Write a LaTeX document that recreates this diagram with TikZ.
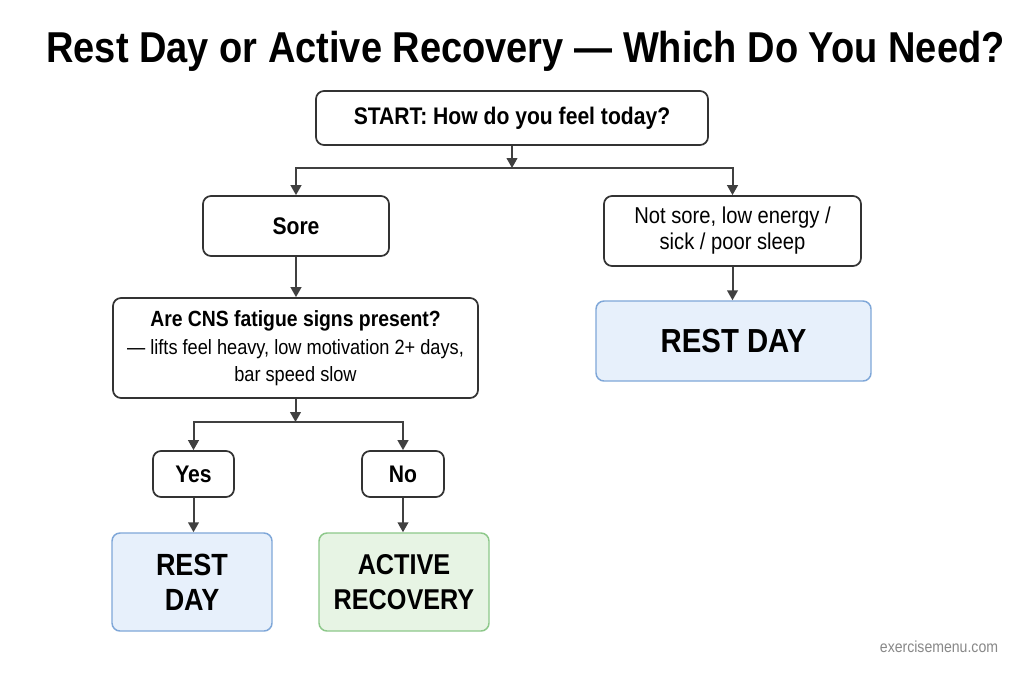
\documentclass[tikz,border=0pt]{standalone}
\usepackage{fontspec}
\setmainfont[FakeStretch=0.88]{Liberation Sans}
\usetikzlibrary{arrows.meta}
\definecolor{edge}{HTML}{333333}
\definecolor{arrowc}{HTML}{404040}
\definecolor{bluefill}{HTML}{E7F0FB}
\definecolor{blueedge}{HTML}{7FA7D8}
\definecolor{greenfill}{HTML}{E7F4E4}
\definecolor{greenedge}{HTML}{8DC88A}
\definecolor{wmark}{HTML}{888888}
\tikzset{
  box/.style={draw=edge, line width=1.3pt, rounded corners=6pt, fill=white, align=center, inner sep=0pt, text=black},
  bluebox/.style={box, draw=blueedge, fill=bluefill, line width=1.1pt},
  greenbox/.style={box, draw=greenedge, fill=greenfill, line width=1.1pt},
  arr/.style={draw=arrowc, line width=1.5pt, -{Triangle[width=8pt,length=7.5pt]}},
  mid/.style={font=\fontsize{18}{21}\selectfont\bfseries},
  big/.style={font=\fontsize{23}{26}\selectfont\bfseries},
}
\begin{document}
\begin{tikzpicture}[x=0.75pt, y=-0.75pt]
\useasboundingbox (0,0) rectangle (1024,683);
\fill[white] (0,0) rectangle (1024,683);

\node[anchor=base, font=\fontsize{32.4}{36}\selectfont\bfseries] (title) at (525.5,62) {Rest Day or Active Recovery — Which Do You Need?};

\node[box, mid, minimum width=294pt, minimum height=40.5pt] (start) at (512,118) {START: How do you feel today?};
\node[box, mid, minimum width=139.5pt, minimum height=45pt] (sore) at (296,226) {Sore};
\node[box, font=\fontsize{17.2}{19.5}\selectfont, minimum width=192.75pt, minimum height=52.5pt] (notsore) at (732.5,231) {Not sore, low energy /\\sick / poor sleep};
\node[box, font=\fontsize{15.5}{20}\selectfont, minimum width=273.75pt, minimum height=75pt] (cns) at (295.5,348)
  {{\fontsize{16.5}{20}\selectfont\bfseries Are CNS fatigue signs present?}\\[1pt]
   — lifts feel heavy, low motivation 2+ days,\\
   bar speed slow};
\node[box, mid, minimum width=60.75pt, minimum height=34.5pt] (yes) at (193.5,474) {Yes};
\node[box, mid, minimum width=61.5pt, minimum height=34.5pt] (no) at (403,474) {No};
\node[bluebox, big, minimum width=120pt, minimum height=73.5pt] (restA) at (192,582) {REST\\DAY};
\node[greenbox, big, font=\fontsize{21.5}{26}\selectfont\bfseries, minimum width=127.5pt, minimum height=73.5pt] (active) at (404,582) {ACTIVE\\RECOVERY};
\node[bluebox, font=\fontsize{25}{28}\selectfont\bfseries, minimum width=206.25pt, minimum height=60pt] (restB) at (733.5,341) {REST DAY};

\node[anchor=base, text=wmark, font=\fontsize{12}{14}\selectfont] (wm) at (939,652) {exercisemenu.com};

\coordinate (j1) at (512,168);
\coordinate (j2) at (295.5,422);

\draw[arr] (start.south) -- (j1);
\draw[arr] (j1) -| (sore.north);
\draw[arr] (j1) -| (notsore.north);
\draw[arr] (sore.south) -- (sore.south |- cns.north);
\draw[arr] (notsore.south) -- (notsore.south |- restB.north);
\draw[arr] (cns.south) -- (j2);
\draw[arr] (j2) -| (yes.north);
\draw[arr] (j2) -| (no.north);
\draw[arr] (yes.south) -- (yes.south |- restA.north);
\draw[arr] (no.south) -- (no.south |- active.north);
\end{tikzpicture}
\end{document}
